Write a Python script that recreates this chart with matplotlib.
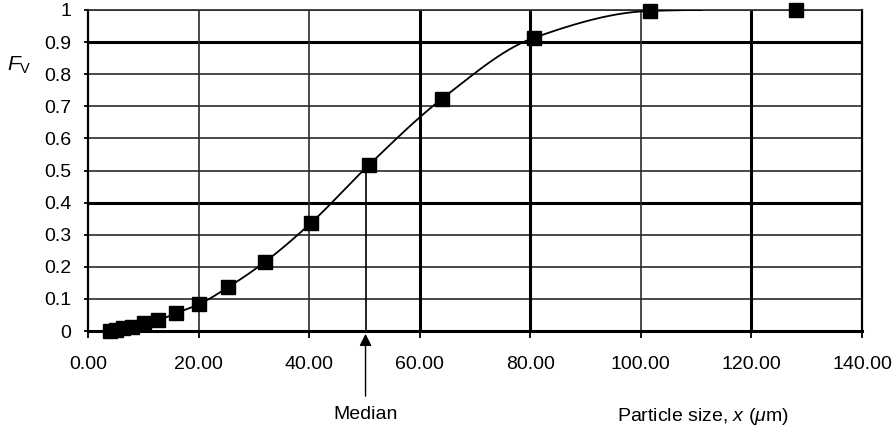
import numpy as np
import matplotlib
matplotlib.use('Agg')
import matplotlib.pyplot as plt

plt.rcParams['font.family'] = ['Liberation Sans', 'DejaVu Sans']
plt.rcParams['mathtext.fontset'] = 'custom'
plt.rcParams['mathtext.rm'] = 'Liberation Sans'
plt.rcParams['mathtext.it'] = 'Liberation Sans:italic'

# ---- data ----
size_um = [4.0, 5.04, 6.35, 8.0, 10.08, 12.7, 16.0, 20.16, 25.4, 32.0,
           40.3, 50.8, 64.0, 80.6, 101.6, 128.0]
fv = [0.0, 0.004, 0.008, 0.014, 0.025, 0.034, 0.056, 0.084, 0.137, 0.215,
      0.336, 0.517, 0.723, 0.913, 0.997, 1.0]
n_curve = 15            # the fitted curve runs through the first 15 points
curve_end_x = 111.0     # where the drawn curve stops
curve_end_y = 1.0
median_um = 50.2
median_fv = 0.5

x_ticks = [0, 20, 40, 60, 80, 100, 120, 140]
x_tick_labels = ['0.00', '20.00', '40.00', '60.00', '80.00', '100.00', '120.00', '140.00']
y_ticks = [0, 0.1, 0.2, 0.3, 0.4, 0.5, 0.6, 0.7, 0.8, 0.9, 1.0]
y_tick_labels = ['0', '0.1', '0.2', '0.3', '0.4', '0.5', '0.6', '0.7', '0.8', '0.9', '1']
heavy_y = [0.4, 0.9]
heavy_x = [60, 80, 120]


def pchip(xk, yk, xs):
    xk = np.asarray(xk, float); yk = np.asarray(yk, float)
    h = np.diff(xk); d = np.diff(yk) / h
    m = np.zeros_like(xk)
    for k in range(1, len(xk) - 1):
        if d[k - 1] * d[k] > 0:
            w1 = 2 * h[k] + h[k - 1]; w2 = h[k] + 2 * h[k - 1]
            m[k] = (w1 + w2) / (w1 / d[k - 1] + w2 / d[k])
    m[0] = d[0]; m[-1] = 0.0
    idx = np.clip(np.searchsorted(xk, xs) - 1, 0, len(h) - 1)
    t = (xs - xk[idx]) / h[idx]
    h00 = 2 * t**3 - 3 * t**2 + 1; h10 = t**3 - 2 * t**2 + t
    h01 = -2 * t**3 + 3 * t**2; h11 = t**3 - t**2
    return (h00 * yk[idx] + h10 * h[idx] * m[idx] + h01 * yk[idx + 1]
            + h11 * h[idx] * m[idx + 1])


fig = plt.figure(figsize=(8.92, 4.33), dpi=100)
ax = fig.add_axes([88 / 892, 102 / 433, 774 / 892, 321 / 433])
ax.set_xlim(0, 140)
ax.set_ylim(0, 1)

grid_c = '#2a2a2a'
for y in y_ticks[1:]:
    ax.axhline(y, color='k' if y in heavy_y else grid_c,
               lw=2.2 if y in heavy_y else 1.2, zorder=1)
for x in x_ticks[1:-1]:
    ax.axvline(x, color='k' if x in heavy_x else grid_c,
               lw=2.2 if x in heavy_x else 1.2, zorder=1)

for s in ['left', 'right']:
    ax.spines[s].set_linewidth(1.6)
ax.spines['bottom'].set_linewidth(2.2)
ax.spines['top'].set_linewidth(1.2)
ax.spines['top'].set_color(grid_c)

ax.set_xticks(x_ticks)
ax.set_xticklabels(x_tick_labels)
ax.set_yticks(y_ticks)
ax.set_yticklabels(y_tick_labels)
ax.tick_params(axis='x', direction='out', length=5, width=1.3, pad=13, labelsize=14)
ax.tick_params(axis='y', direction='out', length=3, width=1.3, pad=9, labelsize=14)

# curve
ck_x = list(size_um[:n_curve]) + [curve_end_x]
ck_y = list(fv[:n_curve]) + [curve_end_y]
xs = np.linspace(ck_x[0], ck_x[-1], 400)
ax.plot(xs, pchip(ck_x, ck_y, xs), color='k', lw=1.3, zorder=3)

# markers
ax.plot(size_um, fv, 's', ms=9.5, color='k', clip_on=False, zorder=5)

# median drop line and arrow
ax.vlines(median_um, 0, median_fv, color='k', lw=1.2, zorder=2)
ax.annotate('Median', xy=(median_um, 0), xycoords='data',
            xytext=(0, -60), textcoords='offset points',
            ha='center', va='center', fontsize=14,
            arrowprops=dict(arrowstyle='-|>', color='k', lw=1.0,
                            mutation_scale=18, shrinkA=5, shrinkB=2),
            annotation_clip=False)

ax.set_xlabel('Particle size, $x$ ($\\mu$m)', fontsize=14)
ax.xaxis.set_label_coords(111.3 / 140, -0.235)
ax.set_ylabel('$F_{\\mathrm{V}}$', fontsize=15, rotation=0)
ax.yaxis.set_label_coords(-0.089, 0.794)

fig.savefig('out.png', dpi=100)
